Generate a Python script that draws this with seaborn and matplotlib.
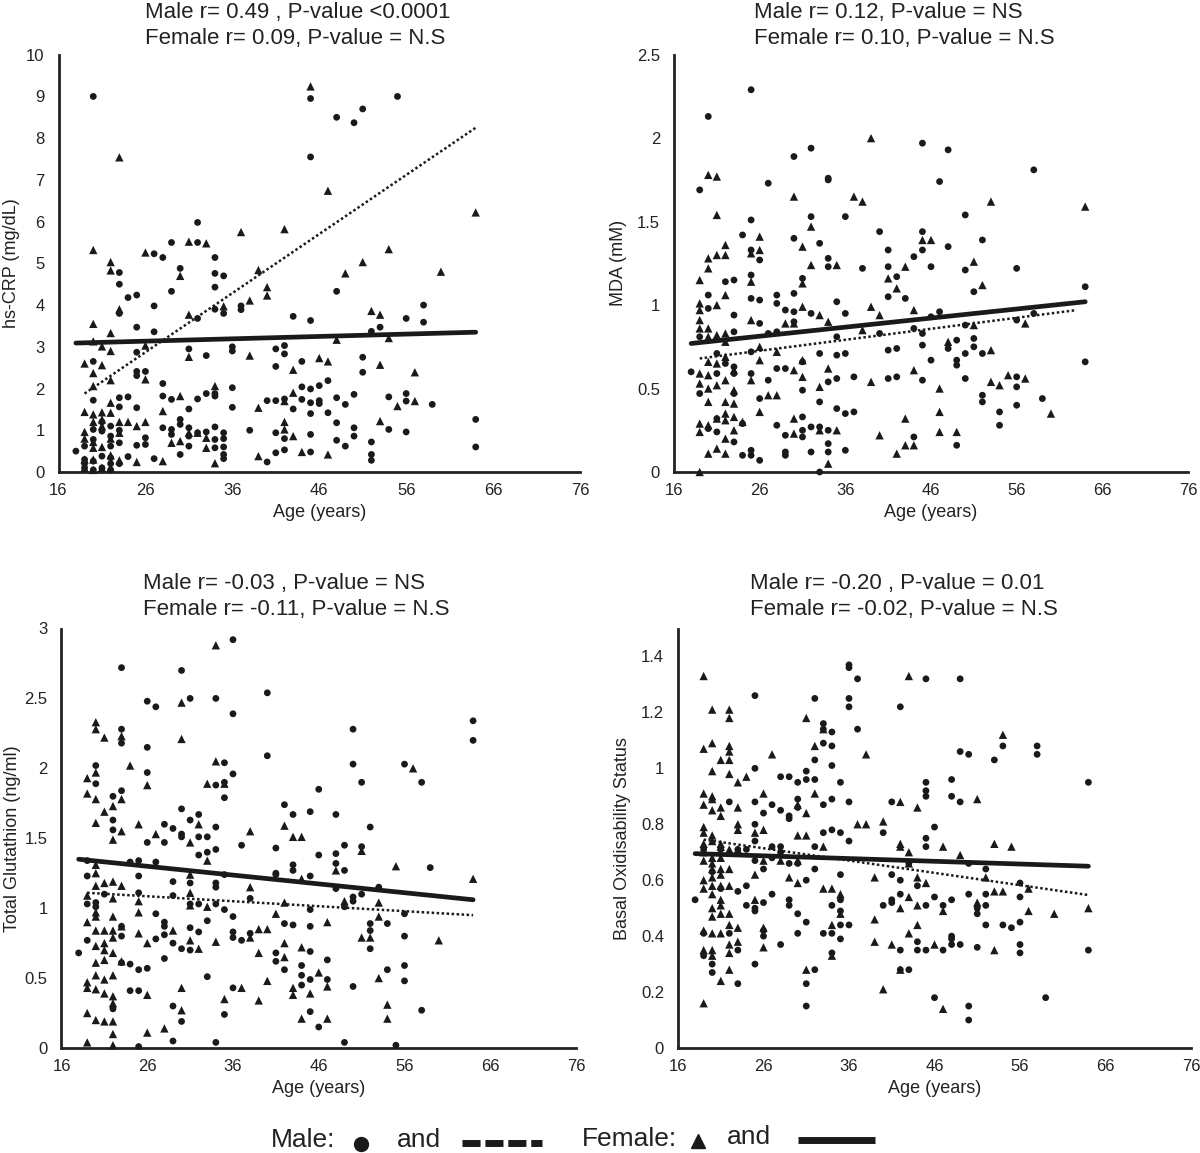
import matplotlib
matplotlib.use("Agg")
from matplotlib import pyplot as plt
from matplotlib.lines import Line2D
import seaborn as sns
import pandas as pd

AGE_TICKS = [16, 26, 36, 46, 56, 66, 76]

# (age, value)
crp_male = [(20, 9.0), (45, 8.95), (45, 7.55), (48, 8.5), (50, 8.37), (51, 8.7), (55, 9.0),
            (32, 5.98), (29, 5.5), (32, 5.5), (27, 5.23), (28, 5.14), (34, 5.14), (30, 4.88), (23, 4.78),
            (34, 4.76), (35, 4.7), (23, 4.5), (34, 4.43), (29, 4.33), (48, 4.33), (24, 4.18), (25, 4.24),
            (27, 3.98), (37, 3.98), (37, 3.89), (58, 4.0), (34, 3.9), (35, 3.8), (23, 3.8), (32, 3.68),
            (43, 3.73), (45, 3.63), (56, 3.68), (58, 3.59), (53, 3.47), (25, 3.47), (27, 3.36), (52, 3.37),
            (31, 2.95), (36, 3.0), (36, 2.9), (41, 2.95), (42, 3.03), (42, 2.83), (33, 2.79), (25, 2.87),
            (20, 2.65), (41, 2.53), (44, 2.65), (51, 2.75), (51, 2.39), (25, 2.41), (26, 2.41), (25, 2.31),
            (47, 2.19), (28, 2.12), (46, 2.07), (44, 2.04), (45, 1.99), (36, 2.02), (33, 1.88), (34, 1.82),
            (34, 1.88), (24, 1.8), (23, 1.78), (28, 1.82), (29, 1.74), (32, 1.75), (20, 1.72), (48, 1.78),
            (50, 1.86), (54, 1.8), (56, 1.88), (56, 1.7), (59, 1.62), (40, 1.71), (41, 1.71), (42, 1.75),
            (44, 1.74), (45, 1.66), (46, 1.71), (46, 1.64), (49, 1.62), (36, 1.55), (31, 1.51), (43, 1.51),
            (45, 1.4), (47, 1.42), (23, 1.56), (25, 1.54), (48, 1.18), (64, 1.26), (64, 0.6),
            (18, 0.5), (19, 0.62), (19, 0.3), (19, 0.2), (19, 0.1), (28, 1.06), (29, 1.02), (29, 0.9),
            (30, 1.26), (30, 1.14), (31, 1.06), (31, 0.86), (31, 0.62), (30, 0.42), (32, 0.94), (33, 0.96),
            (34, 1.08), (34, 0.78), (34, 0.58), (35, 0.94), (35, 0.8), (35, 0.6), (35, 0.42), (35, 0.32),
            (38, 1.0), (41, 0.94), (41, 0.46), (42, 0.8), (42, 0.53), (40, 0.24), (45, 0.9), (45, 0.48),
            (48, 0.76), (49, 0.62), (50, 1.06), (50, 0.86), (52, 0.72), (52, 0.42), (52, 0.28), (54, 1.02),
            (56, 0.96), (27, 0.32), (24, 0.37), (25, 0.64), (26, 0.82), (26, 0.66), (23, 0.7), (22, 0.86),
            (22, 0.62), (22, 0.34), (21, 0.98), (21, 0.38), (20, 1.02), (20, 0.78), (20, 0.26),
            (21, 0.1), (22, 0.05), (20, 0.05), (23, 1.0), (21, 1.2), (22, 1.1), (23, 0.2), (22, 0.2)]
crp_female = [(45, 9.24), (23, 7.54), (47, 6.74), (64, 6.22), (37, 5.75), (42, 5.82), (31, 5.52), (33, 5.48),
              (20, 5.32), (26, 5.26), (54, 5.34), (51, 5.03), (22, 5.03), (22, 4.83), (39, 4.84), (60, 4.8),
              (49, 4.76), (30, 4.7), (40, 4.43), (40, 4.23), (38, 4.11), (23, 3.9), (35, 3.97), (31, 3.77),
              (52, 3.86), (53, 3.77), (20, 3.55), (22, 3.33), (54, 3.21), (48, 3.17), (20, 3.13), (21, 3.01),
              (26, 3.03), (22, 2.9), (38, 2.79), (31, 2.76), (46, 2.73), (47, 2.65), (19, 2.6), (21, 2.56),
              (53, 2.57), (20, 2.37), (43, 2.45), (57, 2.39), (26, 2.22), (22, 2.2), (20, 2.06), (34, 2.06),
              (43, 1.9), (30, 1.82), (57, 1.7), (42, 1.7), (22, 1.66), (55, 1.58), (39, 1.54), (19, 1.44),
              (28, 1.46), (20, 1.38), (21, 1.43), (22, 1.42), (19, 0.96), (20, 1.2), (21, 1.26), (21, 1.1),
              (23, 1.2), (24, 1.2), (25, 1.1), (26, 1.2), (53, 1.22), (42, 1.2), (42, 1.02), (43, 0.86),
              (31, 0.94), (32, 0.94), (33, 0.82), (29, 0.7), (30, 0.74), (33, 0.58), (20, 0.72), (20, 0.58),
              (22, 0.8), (23, 0.94), (19, 0.3), (20, 0.3), (21, 0.1), (22, 0.1), (23, 0.28), (25, 0.24),
              (28, 0.26), (34, 0.21), (39, 0.38), (44, 0.48), (47, 0.42), (19, 0.1), (20, 0.05), (22, 0.4),
              (21, 0.6), (19, 0.8)]
crp_male_fit = [(19, 1.88), (64, 8.25)]
crp_female_fit = [(18, 3.09), (64, 3.35)]

mda_male = [(25, 2.29), (20, 2.13), (32, 1.94), (30, 1.89), (45, 1.97), (48, 1.93), (58, 1.81), (19, 1.69),
            (27, 1.73), (34, 1.76), (34, 1.75), (47, 1.74), (25, 1.51), (32, 1.53), (36, 1.53), (50, 1.54),
            (24, 1.42), (40, 1.44), (45, 1.44), (30, 1.40), (52, 1.39), (33, 1.37), (48, 1.35), (41, 1.33),
            (45, 1.33), (25, 1.33), (26, 1.27), (34, 1.28), (44, 1.29), (34, 1.23), (38, 1.22), (41, 1.23),
            (46, 1.23), (50, 1.21), (56, 1.22), (25, 1.18), (42, 1.17), (31, 1.16), (23, 1.15), (22, 1.14),
            (64, 1.11), (51, 1.08), (20, 1.06), (30, 1.07), (41, 1.05), (43, 1.04), (25, 1.04), (26, 1.03),
            (28, 1.06), (28, 1.01), (35, 1.02), (29, 0.97), (30, 0.96), (32, 0.95), (36, 0.95), (58, 0.95),
            (47, 0.96), (23, 0.94), (20, 0.98), (56, 0.91), (30, 0.90), (26, 0.89), (46, 0.93), (50, 0.88),
            (44, 0.86), (27, 0.83), (28, 0.84), (23, 0.84), (45, 0.83), (40, 0.83), (35, 0.81), (19, 0.81),
            (51, 0.80), (49, 0.79), (45, 0.76), (42, 0.74), (51, 0.75), (41, 0.73), (48, 0.74), (21, 0.71),
            (25, 0.72), (33, 0.71), (36, 0.71), (50, 0.71), (52, 0.71), (35, 0.70), (46, 0.67), (64, 0.66),
            (49, 0.67), (31, 0.66), (22, 0.65), (49, 0.64), (18, 0.60), (23, 0.63), (23, 0.59), (29, 0.62),
            (28, 0.62), (21, 0.59), (25, 0.59), (56, 0.57), (37, 0.57), (41, 0.56), (42, 0.57), (35, 0.56),
            (34, 0.54), (45, 0.55), (50, 0.56), (27, 0.55), (19, 0.47), (23, 0.47), (56, 0.51), (31, 0.49),
            (26, 0.44), (33, 0.42), (52, 0.46), (52, 0.42), (59, 0.44), (35, 0.38), (36, 0.35), (37, 0.36),
            (54, 0.36), (56, 0.40), (24, 0.29), (28, 0.28), (32, 0.27), (31, 0.33), (54, 0.28), (21, 0.32),
            (21, 0.24), (20, 0.26), (33, 0.27), (29, 0.22), (31, 0.25), (31, 0.21), (23, 0.18), (34, 0.25),
            (44, 0.21), (49, 0.16), (34, 0.17), (34, 0.12), (36, 0.13), (32, 0.12), (29, 0.12), (29, 0.10),
            (24, 0.10), (25, 0.13), (25, 0.10), (26, 0.07), (33, 0.0)]
mda_female = [(39, 2.0), (20, 1.78), (21, 1.77), (30, 1.65), (37, 1.65), (38, 1.62), (53, 1.62), (64, 1.59),
              (21, 1.54), (32, 1.47), (26, 1.41), (45, 1.39), (46, 1.39), (22, 1.36), (31, 1.35), (26, 1.33),
              (25, 1.31), (21, 1.30), (22, 1.30), (20, 1.28), (51, 1.26), (32, 1.24), (35, 1.24), (43, 1.23),
              (20, 1.22), (19, 1.15), (41, 1.16), (31, 1.13), (25, 1.14), (42, 1.10), (52, 1.12), (22, 1.06),
              (19, 1.01), (39, 0.99), (19, 0.97), (21, 1.0), (31, 0.99), (44, 0.97), (33, 0.94), (40, 0.94),
              (19, 0.91), (25, 0.91), (34, 0.90), (29, 0.89), (30, 0.89), (19, 0.86), (20, 0.86), (51, 0.88),
              (57, 0.89), (38, 0.85), (22, 0.83), (21, 0.82), (20, 0.81), (48, 0.78), (22, 0.78), (26, 0.75),
              (53, 0.73), (28, 0.72), (22, 0.69), (26, 0.67), (20, 0.66), (31, 0.67), (34, 0.62), (21, 0.65),
              (23, 0.61), (30, 0.61), (44, 0.61), (19, 0.59), (20, 0.58), (55, 0.58), (57, 0.56), (31, 0.57),
              (22, 0.55), (25, 0.55), (39, 0.54), (53, 0.54), (19, 0.53), (21, 0.52), (54, 0.52), (20, 0.50),
              (33, 0.51), (47, 0.50), (23, 0.49), (27, 0.46), (28, 0.46), (22, 0.42), (20, 0.42), (23, 0.41),
              (26, 0.36), (47, 0.36), (60, 0.35), (22, 0.35), (23, 0.33), (21, 0.32), (22, 0.31), (24, 0.30),
              (30, 0.32), (43, 0.32), (19, 0.29), (20, 0.28), (23, 0.25), (33, 0.25), (35, 0.25), (19, 0.24),
              (47, 0.24), (49, 0.24), (30, 0.23), (40, 0.22), (22, 0.20), (43, 0.16), (44, 0.16), (21, 0.14),
              (20, 0.11), (22, 0.11), (42, 0.11), (34, 0.05), (19, 0.0)]
mda_male_fit = [(19, 0.68), (63, 0.97)]
mda_female_fit = [(18, 0.77), (64, 1.02)]

gsh_male = [(36, 2.92), (30, 2.70), (23, 2.72), (40, 2.54), (34, 2.50), (31, 2.50), (26, 2.48), (27, 2.44),
            (36, 2.39), (64, 2.34), (50, 2.28), (23, 2.28), (23, 2.18), (64, 2.20), (26, 2.15), (40, 2.09),
            (50, 2.03), (56, 2.03), (35, 2.04), (20, 2.02), (26, 1.97), (36, 1.96), (20, 1.89), (34, 1.88),
            (35, 1.90), (51, 1.90), (58, 1.90), (46, 1.85), (23, 1.84), (35, 1.79), (22, 1.80), (42, 1.74),
            (30, 1.71), (45, 1.69), (43, 1.67), (32, 1.67), (48, 1.67), (31, 1.63), (22, 1.63), (34, 1.58),
            (52, 1.58), (28, 1.60), (29, 1.57), (22, 1.56), (30, 1.53), (30, 1.51), (32, 1.51), (33, 1.51),
            (26, 1.47), (28, 1.47), (37, 1.45), (49, 1.45), (41, 1.43), (51, 1.44), (34, 1.42), (33, 1.40),
            (48, 1.39), (32, 1.38), (46, 1.38), (59, 1.29), (48, 1.32), (49, 1.27), (43, 1.31), (43, 1.27),
            (27, 1.33), (25, 1.34), (24, 1.33), (19, 1.34), (41, 1.25), (41, 1.24), (35, 1.24), (45, 1.23),
            (25, 1.23), (19, 1.23), (29, 1.19), (34, 1.18), (31, 1.18), (34, 1.15), (48, 1.14), (53, 1.15),
            (25, 1.11), (21, 1.10), (29, 1.09), (51, 1.10), (50, 1.08), (50, 1.05), (38, 1.07), (31, 1.03),
            (32, 1.03), (34, 1.03), (19, 1.03), (20, 1.04), (20, 1.01), (49, 1.01), (45, 0.99), (35, 0.99),
            (56, 0.96), (27, 0.96), (36, 0.94), (33, 0.91), (42, 0.89), (54, 0.89), (43, 0.88), (45, 0.87),
            (28, 0.90), (28, 0.87), (31, 0.86), (23, 0.87), (52, 0.89), (52, 0.84), (32, 0.83), (36, 0.83),
            (36, 0.79), (56, 0.80), (23, 0.80), (28, 0.81), (27, 0.78), (37, 0.77), (38, 0.82), (19, 0.77),
            (29, 0.75), (30, 0.71), (52, 0.71), (31, 0.70), (45, 0.69), (41, 0.68), (18, 0.68), (28, 0.64),
            (47, 0.63), (41, 0.62), (24, 0.60), (23, 0.61), (56, 0.59), (44, 0.59), (42, 0.56), (25, 0.56),
            (26, 0.57), (54, 0.56), (44, 0.52), (33, 0.51), (45, 0.49), (47, 0.49), (56, 0.48), (44, 0.45),
            (50, 0.44), (36, 0.43), (24, 0.41), (25, 0.41), (29, 0.30), (22, 0.28), (58, 0.27), (45, 0.26),
            (35, 0.24), (30, 0.19), (46, 0.15), (29, 0.05), (34, 0.04), (49, 0.04), (55, 0.02), (25, 0.01)]
gsh_female = [(34, 2.88), (30, 2.47), (20, 2.33), (20, 2.28), (21, 2.22), (23, 2.23), (30, 2.21), (24, 2.02),
              (34, 2.05), (57, 2.00), (20, 1.97), (19, 1.93), (26, 1.88), (33, 1.89), (35, 1.89), (19, 1.82),
              (20, 1.78), (23, 1.78), (22, 1.73), (21, 1.69), (20, 1.61), (25, 1.60), (32, 1.60), (42, 1.59),
              (38, 1.55), (23, 1.55), (27, 1.53), (43, 1.51), (44, 1.51), (22, 1.49), (31, 1.47), (51, 1.41),
              (33, 1.34), (55, 1.30), (20, 1.31), (48, 1.27), (20, 1.25), (31, 1.24), (44, 1.21), (64, 1.21),
              (22, 1.19), (21, 1.18), (23, 1.16), (20, 1.16), (38, 1.15), (19, 1.09), (31, 1.11), (22, 1.07),
              (25, 1.05), (49, 1.05), (53, 1.04), (42, 1.04), (31, 1.02), (33, 1.01), (20, 0.97), (25, 0.97),
              (41, 0.96), (53, 0.94), (22, 0.94), (20, 0.94), (19, 0.90), (47, 0.90), (23, 0.87), (21, 0.84),
              (20, 0.84), (22, 0.84), (39, 0.85), (40, 0.85), (25, 0.82), (29, 0.84), (22, 0.79), (38, 0.79),
              (51, 0.79), (52, 0.79), (60, 0.77), (26, 0.75), (31, 0.77), (34, 0.76), (20, 0.73), (21, 0.75),
              (42, 0.75), (32, 0.71), (44, 0.72), (21, 0.70), (39, 0.68), (22, 0.68), (42, 0.65), (21, 0.63),
              (20, 0.61), (23, 0.62), (20, 0.52), (22, 0.52), (21, 0.49), (46, 0.54), (53, 0.50), (40, 0.48),
              (19, 0.47), (19, 0.43), (30, 0.43), (37, 0.43), (47, 0.44), (43, 0.43), (43, 0.38), (20, 0.42),
              (21, 0.39), (22, 0.37), (45, 0.39), (26, 0.38), (35, 0.35), (39, 0.34), (22, 0.32), (54, 0.31),
              (30, 0.27), (19, 0.25), (20, 0.20), (21, 0.19), (22, 0.19), (44, 0.21), (47, 0.21), (54, 0.21),
              (28, 0.14), (26, 0.11), (22, 0.10), (19, 0.04), (22, 0.02)]
gsh_male_fit = [(19, 1.11), (64, 0.95)]
gsh_female_fit = [(18, 1.35), (64, 1.06)]

bos_male = [(36, 1.37), (36, 1.36), (37, 1.32), (45, 1.32), (49, 1.32), (25, 1.26), (32, 1.25), (36, 1.25),
            (36, 1.22), (42, 1.22), (33, 1.16), (33, 1.14), (37, 1.14), (34, 1.13), (54, 1.08), (33, 1.09),
            (34, 1.08), (49, 1.06), (58, 1.08), (58, 1.05), (50, 1.05), (53, 1.03), (32, 1.03), (25, 1.00),
            (34, 1.01), (31, 0.99), (28, 0.97), (29, 0.97), (30, 0.95), (31, 0.96), (32, 0.96), (35, 0.95),
            (45, 0.95), (64, 0.95), (48, 0.96), (45, 0.92), (45, 0.90), (30, 0.89), (25, 0.88), (22, 0.88),
            (34, 0.89), (48, 0.90), (49, 0.88), (41, 0.88), (33, 0.87), (27, 0.87), (26, 0.84), (28, 0.85),
            (29, 0.83), (29, 0.82), (36, 0.88), (30, 0.86), (34, 0.78), (33, 0.77), (35, 0.77), (40, 0.77),
            (46, 0.79), (25, 0.80), (45, 0.75), (36, 0.74), (45, 0.72), (25, 0.74), (32, 0.72), (27, 0.72),
            (28, 0.72), (24, 0.71), (21, 0.71), (19, 0.71), (23, 0.71), (28, 0.70), (25, 0.67), (43, 0.66),
            (27, 0.68), (26, 0.64), (29, 0.66), (30, 0.66), (50, 0.66), (52, 0.64), (32, 0.64), (20, 0.63),
            (41, 0.62), (35, 0.62), (42, 0.60), (31, 0.60), (56, 0.59), (44, 0.58), (24, 0.58), (23, 0.56),
            (21, 0.57), (27, 0.55), (18, 0.53), (50, 0.55), (52, 0.55), (56, 0.54), (42, 0.55), (41, 0.53),
            (41, 0.52), (26, 0.52), (29, 0.53), (29, 0.51), (35, 0.53), (35, 0.49), (24, 0.51), (25, 0.50),
            (34, 0.51), (40, 0.51), (45, 0.51), (47, 0.51), (51, 0.50), (51, 0.48), (52, 0.51), (30, 0.48),
            (25, 0.49), (46, 0.54), (48, 0.53), (31, 0.45), (56, 0.45), (52, 0.44), (54, 0.44), (55, 0.43),
            (35, 0.44), (36, 0.44), (26, 0.42), (19, 0.41), (34, 0.41), (33, 0.41), (30, 0.41), (22, 0.41),
            (26, 0.40), (48, 0.40), (48, 0.39), (35, 0.39), (44, 0.38), (49, 0.37), (56, 0.37), (28, 0.37),
            (48, 0.37), (51, 0.36), (23, 0.35), (42, 0.35), (44, 0.35), (45, 0.35), (47, 0.35), (34, 0.34),
            (64, 0.35), (56, 0.34), (19, 0.33), (20, 0.30), (25, 0.30), (32, 0.28), (43, 0.28), (42, 0.28),
            (20, 0.27), (23, 0.23), (31, 0.23), (46, 0.18), (59, 0.18), (31, 0.15), (50, 0.15), (50, 0.10)]
bos_female = [(19, 1.33), (43, 1.33), (20, 1.21), (22, 1.21), (22, 1.18), (31, 1.18), (54, 1.12), (33, 1.14),
              (19, 1.07), (20, 1.09), (22, 1.08), (22, 1.06), (21, 1.03), (22, 1.03), (32, 1.08), (27, 1.05),
              (38, 1.05), (20, 0.99), (22, 0.98), (24, 0.97), (23, 0.95), (19, 0.91), (20, 0.90), (20, 0.89),
              (26, 0.91), (32, 0.91), (51, 0.89), (42, 0.88), (19, 0.87), (21, 0.86), (20, 0.85), (23, 0.86),
              (44, 0.86), (21, 0.83), (31, 0.84), (30, 0.87), (37, 0.80), (38, 0.80), (40, 0.81), (23, 0.80),
              (19, 0.79), (26, 0.78), (25, 0.77), (23, 0.78), (19, 0.77), (30, 0.76), (31, 0.76), (20, 0.76),
              (33, 0.72), (42, 0.73), (42, 0.72), (53, 0.73), (55, 0.72), (47, 0.72), (19, 0.73), (20, 0.74),
              (21, 0.73), (21, 0.72), (22, 0.71), (23, 0.71), (19, 0.70), (43, 0.70), (49, 0.69), (20, 0.68),
              (19, 0.67), (21, 0.68), (26, 0.67), (28, 0.67), (30, 0.67), (43, 0.66), (20, 0.66), (20, 0.64),
              (22, 0.64), (21, 0.64), (25, 0.62), (52, 0.61), (29, 0.61), (44, 0.61), (39, 0.61), (19, 0.60),
              (20, 0.61), (21, 0.62), (45, 0.59), (30, 0.59), (20, 0.58), (21, 0.58), (22, 0.58), (19, 0.57),
              (33, 0.57), (34, 0.57), (57, 0.57), (53, 0.56), (54, 0.56), (20, 0.55), (35, 0.55), (21, 0.53),
              (43, 0.54), (25, 0.53), (20, 0.50), (21, 0.51), (35, 0.48), (57, 0.49), (60, 0.48), (64, 0.50),
              (47, 0.49), (21, 0.48), (22, 0.48), (20, 0.47), (42, 0.50), (44, 0.51), (51, 0.52), (39, 0.46),
              (34, 0.44), (44, 0.44), (22, 0.44), (23, 0.43), (26, 0.43), (19, 0.42), (20, 0.41), (21, 0.41),
              (43, 0.41), (22, 0.37), (23, 0.38), (39, 0.38), (41, 0.37), (46, 0.37), (26, 0.36), (53, 0.35),
              (20, 0.35), (19, 0.35), (22, 0.34), (20, 0.33), (34, 0.33), (31, 0.28), (22, 0.28), (42, 0.28),
              (21, 0.24), (40, 0.21), (19, 0.16), (47, 0.14)]
bos_male_fit = [(19, 0.745), (64, 0.547)]
bos_female_fit = [(18, 0.695), (64, 0.65)]

titles = [("Male r= 0.49 , P-value <0.0001", "Female r= 0.09, P-value = N.S"),
          ("Male r= 0.12, P-value = NS", "Female r= 0.10, P-value = N.S"),
          ("Male r= -0.03 , P-value = NS", "Female r= -0.11, P-value = N.S"),
          ("Male r= -0.20 , P-value = 0.01", "Female r= -0.02, P-value = N.S")]
ylabels = ["hs-CRP (mg/dL)", "MDA (mM)", "Total Glutathion (ng/ml)", "Basal Oxidisability Status"]
y_ticks = [[0, 1, 2, 3, 4, 5, 6, 7, 8, 9, 10],
           [0, 0.5, 1, 1.5, 2, 2.5],
           [0, 0.5, 1, 1.5, 2, 2.5, 3],
           [0, 0.2, 0.4, 0.6, 0.8, 1, 1.2, 1.4]]
y_tops = [10, 2.5, 3, 1.5]

sns.set_theme(style="white")
plt.rcParams['font.family'] = ['Liberation Sans', 'DejaVu Sans']

W, H = 1200, 1153
fig = plt.figure(figsize=(W / 100, H / 100), dpi=100)

# axes boxes in pixels: left, right, top, bottom
boxes = [(58.5, 580, 54.7, 472), (674, 1188, 54.7, 472),
         (61.5, 576, 628.5, 1048), (678, 1191, 628.5, 1048)]
title_pos = [(145, 18, 44), (754, 18, 44), (143, 589, 615), (750, 589, 615)]
ylabel_x = [20, 627, 21, 631]

series = [(crp_male, crp_female, crp_male_fit, crp_female_fit),
          (mda_male, mda_female, mda_male_fit, mda_female_fit),
          (gsh_male, gsh_female, gsh_male_fit, gsh_female_fit),
          (bos_male, bos_female, bos_male_fit, bos_female_fit)]

for i, (male, female, male_fit, female_fit) in enumerate(series):
    l, r, t, b = boxes[i]
    ax = fig.add_axes([l / W, (H - b) / H, (r - l) / W, (b - t) / H])
    m = pd.DataFrame(male, columns=['age', 'value'])
    f = pd.DataFrame(female, columns=['age', 'value'])
    mf = pd.DataFrame(male_fit, columns=['age', 'value'])
    ff = pd.DataFrame(female_fit, columns=['age', 'value'])

    sns.scatterplot(data=m, x='age', y='value', marker='o', s=24, color='#1a1a1a',
                    edgecolor='none', linewidth=0, ax=ax, clip_on=False, zorder=3)
    sns.scatterplot(data=f, x='age', y='value', marker='^', s=36, color='#1a1a1a',
                    edgecolor='none', linewidth=0, ax=ax, clip_on=False, zorder=3)
    sns.lineplot(data=mf, x='age', y='value', color='#1a1a1a', linewidth=1.8,
                 linestyle=(0, (1, 1)), ax=ax, zorder=4)
    sns.lineplot(data=ff, x='age', y='value', color='#1a1a1a', linewidth=3.4, ax=ax, zorder=4)

    ax.set_xlim(16, 76)
    ax.set_ylim(0, y_tops[i])
    ax.set_xticks(AGE_TICKS)
    ax.set_yticks(y_ticks[i])
    ax.set_yticklabels(['{:g}'.format(v) for v in y_ticks[i]])
    ax.tick_params(axis='both', length=0, labelsize=12, colors='#222222')
    ax.tick_params(axis='x', pad=8)
    ax.tick_params(axis='y', pad=10)
    sns.despine(ax=ax)
    for side in ['left', 'bottom']:
        ax.spines[side].set_linewidth(2.0)
        ax.spines[side].set_color('#222222')
    ax.grid(False)
    ax.set_xlabel("Age (years)", fontsize=13, labelpad=4, color='#222222')
    ax.set_ylabel(ylabels[i], fontsize=13, color='#222222')
    ax.yaxis.set_label_coords((ylabel_x[i] - l) / (r - l), 0.5)

    tx, y1, y2 = title_pos[i]
    fig.text(tx / W, (H - y1) / H, titles[i][0], fontsize=16, ha='left', va='baseline', color='#222222')
    fig.text(tx / W, (H - y2) / H, titles[i][1], fontsize=16, ha='left', va='baseline', color='#222222')

# key at the bottom
def fx(px):
    return px / W


def fy(py):
    return (H - py) / H


key_size = 19
fig.text(fx(271), fy(1147), "Male:", fontsize=key_size, va='baseline', color='#222222')
fig.text(fx(397), fy(1147), "and", fontsize=key_size, va='baseline', color='#222222')
fig.text(fx(582), fy(1146), "Female:", fontsize=key_size, va='baseline', color='#222222')
fig.text(fx(727), fy(1144), "and", fontsize=key_size, va='baseline', color='#222222')
fig.lines.append(Line2D([fx(360.5)], [fy(1144)], transform=fig.transFigure, marker='o',
                        markersize=10, color='#1a1a1a', linestyle='none'))
fig.lines.append(Line2D([fx(697.5)], [fy(1141)], transform=fig.transFigure, marker='^',
                        markersize=10, color='#1a1a1a', linestyle='none'))
fig.lines.append(Line2D([fx(462), fx(542)], [fy(1143), fy(1143)], transform=fig.transFigure,
                        color='#1a1a1a', linewidth=5, dashes=(2.6, 0.7), solid_capstyle='butt',
                        dash_capstyle='butt'))
fig.lines.append(Line2D([fx(798), fx(875)], [fy(1140), fy(1140)], transform=fig.transFigure,
                        color='#1a1a1a', linewidth=5, solid_capstyle='butt'))

fig.savefig("out.png", dpi=100)
